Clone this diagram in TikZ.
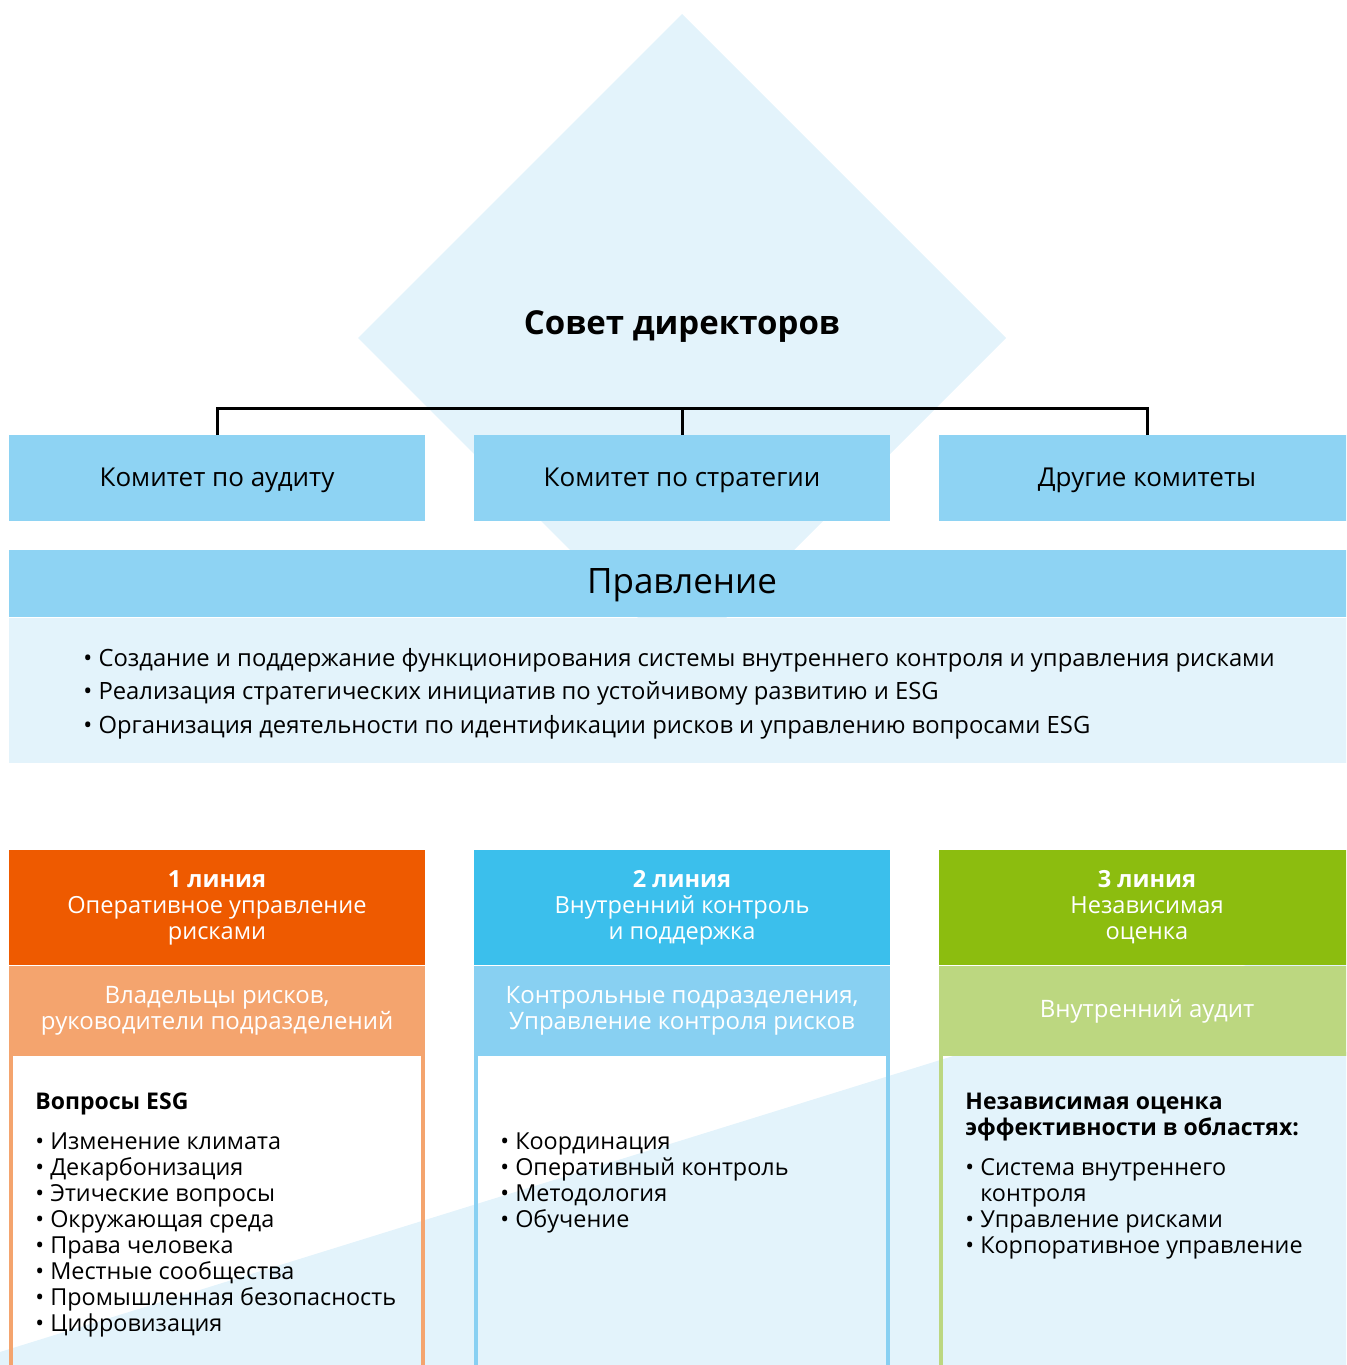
\documentclass[tikz,border=0pt]{standalone}
\usepackage{fontspec}
\setmainfont{Open Sans}
\usetikzlibrary{positioning}

\definecolor{paleblue}{HTML}{E3F3FB}
\definecolor{commblue}{HTML}{8ED3F3}
\definecolor{orangeA}{HTML}{EE5A00}
\definecolor{orangeB}{HTML}{F4A46E}
\definecolor{blueA}{HTML}{3BBFEC}
\definecolor{blueB}{HTML}{88D0F2}
\definecolor{greenA}{HTML}{8CBD0F}
\definecolor{greenB}{HTML}{BCD780}

\tikzset{
  comm/.style={fill=commblue, minimum width=208pt, minimum height=43pt, inner sep=0pt,
    font=\fontsize{13}{15}\selectfont, text height=0.72em+1pt, text depth=0pt},
  bus/.style={line width=1.5pt},
  linehead/.style={minimum width=208pt, minimum height=57.5pt, inner sep=0pt, text=white,
    align=center, font=\fontsize{11.8}{13}\selectfont},
  linesub/.style={minimum width=208pt, minimum height=45pt, inner sep=0pt, text=white,
    align=center, font=\fontsize{12}{13}\selectfont},
  frame/.style={minimum width=206pt, minimum height=170pt, inner sep=0pt, outer sep=0pt,
    line width=2pt},
  ctitle/.style={inner sep=0pt, align=left, font=\bfseries\fontsize{11.5}{13}\selectfont},
  clist/.style={inner sep=0pt, align=left, font=\fontsize{11.7}{13}\selectfont}
}

\begin{document}
\begin{tikzpicture}[x=0.5pt,y=-0.5pt]
\useasboundingbox (0,0) rectangle (1346,1365);
\clip (0,0) rectangle (1346,1365);
% background shapes
\fill[paleblue] (682,14) -- (1006,338) -- (682,662) -- (358,338) -- cycle;
\fill[paleblue] (0,1352) -- (1346,934) -- (1346,1365) -- (0,1365) -- cycle;

% board and committees
\node[inner sep=0pt, font=\bfseries\fontsize{16.5}{19}\selectfont, text height=0.72em, text depth=0pt]
  (board) at (682,327) {Совет директоров};
\node[comm] (audit) at (217,478) {Комитет по аудиту};
\node[comm] (strategy) at (682,478) {Комитет по стратегии};
\node[comm] (other) at (1147,478) {Другие комитеты};
\coordinate (bus) at (682,408);
\draw[bus] (audit.north) |- (bus) -| (other.north);
\draw[bus] (bus) -- (strategy.north);

% management
\node[fill=commblue, minimum width=673pt, minimum height=33.5pt, inner sep=0pt,
  font=\fontsize{17.5}{19}\selectfont, text height=0.97em, text depth=0pt] (mgmt) at (682,583.5) {Правление};
\node[fill=paleblue, minimum width=673pt, minimum height=72.5pt, inner sep=0pt,
  below=0pt of mgmt] (mgmtbody) {};
\node[clist, anchor=west, font=\fontsize{11.9}{16.75}\selectfont] (mgmtlist) at (83,693.5)
  {\textbullet\ Создание и поддержание функционирования системы внутреннего контроля и управления рисками\\
   \textbullet\ Реализация стратегических инициатив по устойчивому развитию и ESG\\
   \textbullet\ Организация деятельности по идентификации рисков и управлению вопросами ESG};

% three lines
\node[linehead, fill=orangeA] (head1) at (217,907.5) {\textbf{1 линия}\\Оперативное управление\\рисками};
\node[linehead, fill=blueA] (head2) at (682,907.5) {\textbf{2 линия}\\Внутренний контроль\\и поддержка};
\node[linehead, fill=greenA] (head3) at (1147,907.5) {\textbf{3 линия}\\Независимая\\оценка};
\node[linesub, fill=orangeB, below=0pt of head1] (sub1) {Владельцы рисков,\\руководители подразделений};
\node[linesub, fill=blueB, below=0pt of head2] (sub2) {Контрольные подразделения,\\Управление контроля рисков};
\node[linesub, fill=greenB, below=0pt of head3] (sub3) {Внутренний аудит};
\node[frame, draw=orangeB, below=-1pt of sub1] (body1) {};
\node[frame, draw=blueB, below=-1pt of sub2] (body2) {};
\node[frame, draw=greenB, below=-1pt of sub3] (body3) {};

\node[ctitle, anchor=west] (title1) at (35,1104) {Вопросы ESG};
\node[clist, anchor=west] (list1) at (35,1235)
  {\textbullet\ Изменение климата\\ \textbullet\ Декарбонизация\\ \textbullet\ Этические вопросы\\
   \textbullet\ Окружающая среда\\ \textbullet\ Права человека\\ \textbullet\ Местные сообщества\\
   \textbullet\ Промышленная безопасность\\ \textbullet\ Цифровизация};
\node[clist, anchor=west] (list2) at (500,1183)
  {\textbullet\ Координация\\ \textbullet\ Оперативный контроль\\ \textbullet\ Методология\\ \textbullet\ Обучение};
\node[ctitle, anchor=west] (title3) at (965,1117) {Независимая оценка\\эффективности в областях:};
\node[clist, anchor=west] (list3) at (965,1209)
  {\textbullet\ Система внутреннего\\ \phantom{\textbullet\ }контроля\\ \textbullet\ Управление рисками\\
   \textbullet\ Корпоративное управление};
\end{tikzpicture}
\end{document}
